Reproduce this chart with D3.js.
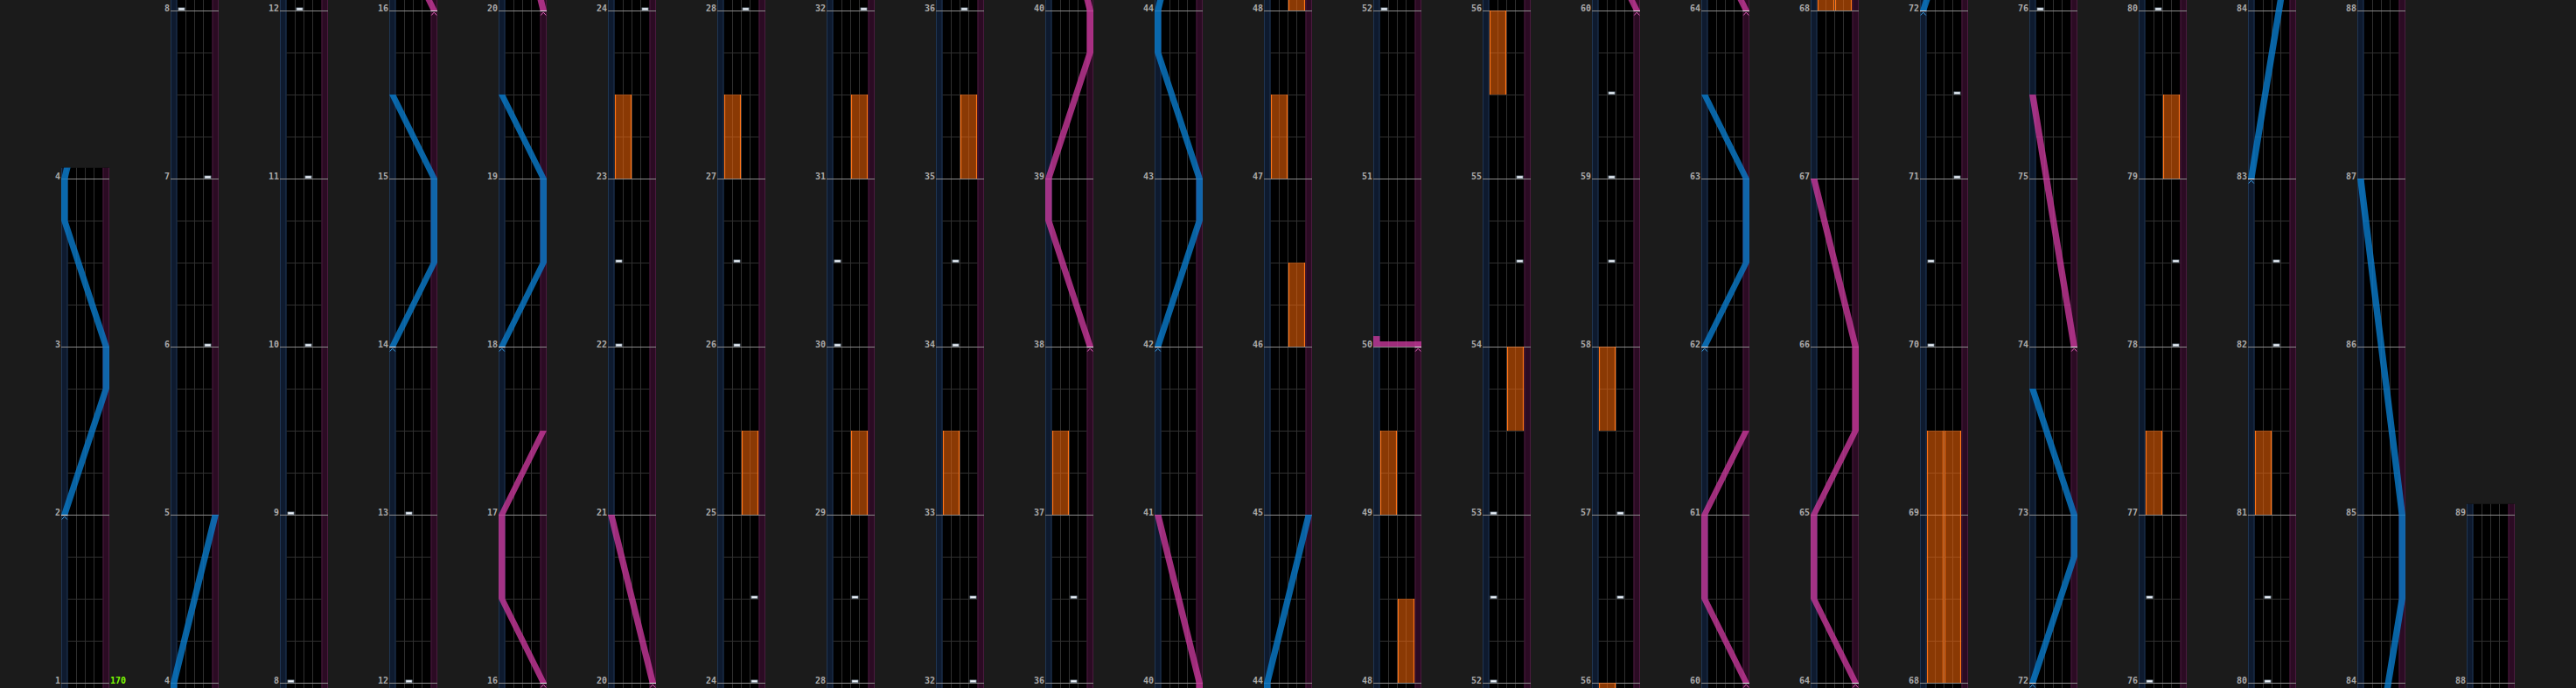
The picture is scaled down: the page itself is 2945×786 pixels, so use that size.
<!DOCTYPE html>
<html><head><meta charset="utf-8">
<script src="https://cdn.jsdelivr.net/npm/d3@7"></script>
<style>html,body{margin:0;padding:0;background:#1b1b1b;overflow:hidden}</style>
</head><body><svg id="chart" width="2945" height="786"></svg>
<script>
// ---------------- data ----------------
const columnStarts = [1,4,8,12,16,20,24,28,32,36,40,44,48,52,56,60,64,68,72,76,80,84,88];
const chartEnd = 89;
const bpmMarks = [[1, "170"]];
// BT notes: [measure, lane 0..3]
const btNotes = [
  [6,3],[7,3],[8,0],[9,0],[10,2],[11,2],[12,1],[13,1],
  [22,0],[22.5,0],[24,3],[24.5,3],[26,1],[26.5,1],[28,2],[28.5,2],
  [30,0],[30.5,0],[32,3],[32.5,3],[34,1],[34.5,1],[36,2],[36.5,2],
  [52,0],[52.5,0],[53,0],[54.5,3],[55,3],
  [56.5,2],[57,2],[58.5,1],[59,1],[59.5,1],
  [70,0],[70.5,0],[71,3],[71.5,3],
  [76,0],[76.5,0],[78,3],[78.5,3],[80,1],[80.5,1],[82,2],[82.5,2]
];
// FX holds: [lane 0=L 1=R, start, end]
const fxHolds = [
  [0,23,23.5],[1,25,25.5],[0,27,27.5],[1,29,29.5],[1,31,31.5],
  [0,33,33.5],[1,35,35.5],[0,37,37.5],[1,46,46.5],[0,47,47.5],
  [1,48,48.5],[0,49,49.5],[1,53.5,54],[0,55.5,56],[0,57.5,58],
  [0,68,69.5],[1,68,69.5],[0,77,77.5],[1,79,79.5],[0,81,81.5]
];
// lasers: lists of [measure, position 0..1]
const leftLasers = [
  [[2,0],[2.75,1],[3,1],[3.75,0],[4,0],[5,1]],
  [[14,0],[14.5,1],[15,1],[15.5,0]],
  [[18,0],[18.5,1],[19,1],[19.5,0]],
  [[42,0],[42.75,1],[43,1],[43.75,0],[44,0],[45,1]],
  [[62,0],[62.5,1],[63,1],[63.5,0]],
  [[72,0],[72.75,1],[73,1],[73.75,0]],
  [[83,0],[84.5,1],[85,1],[87,0]]
];
const rightLasers = [
  [[16,1],[16.5,0],[17,0],[17.5,1]],
  [[20,1],[21,0]],
  [[38,1],[38.75,0],[39,0],[39.75,1],[40,1],[41,0]],
  [[50,1],[50,0],[50.0625,0]],
  [[60,1],[60.5,0],[61,0],[61.5,1]],
  [[64,1],[64.5,0],[65,0],[65.5,1],[66,1],[67,0]],
  [[74,1],[75.5,0]]
];

// ---------------- layout ----------------
const W = 2945, H = 786;
const colX0 = 70, colStep = 125, colW = 55, laserW = 7.5, btW = 40;
const measurePx = 192, baseY = 780, topPad = 12.5, slamLen = 1/32;
const laserStyle = {
  L: {fill: "#0a7ccc", op: 0.8, mark: "#3a9ade"},
  R: {fill: "#cc3a9e", op: 0.78, mark: "#e060b8"}
};

const svg = d3.select("#chart");
svg.append("rect").attr("width", W).attr("height", H).attr("fill", "#1b1b1b");
const defs = svg.append("defs");

columnStarts.forEach((s, i) => {
  const e = i + 1 < columnStarts.length ? columnStarts[i + 1] : chartEnd;
  const x0 = colX0 + colStep * i;
  const y = d3.scaleLinear().domain([s, s + 1]).range([baseY, baseY - measurePx]);
  const xPos = d3.scaleLinear().domain([0, 1]).range([x0, x0 + colW - laserW]);
  const xLane = d3.scaleLinear().domain([0, 4]).range([x0 + laserW, x0 + laserW + btW]);
  const topY = Math.max(0, y(e) - topPad);
  const tMin = y.invert(H), tMax = y.invert(topY);

  defs.append("clipPath").attr("id", "clip" + i)
    .append("rect").attr("x", x0).attr("y", topY).attr("width", colW).attr("height", H - topY);

  const g = svg.append("g").attr("clip-path", `url(#clip${i})`);

  // lane backgrounds
  g.append("rect").attr("x", x0).attr("y", topY).attr("width", colW).attr("height", H - topY).attr("fill", "#000");
  g.append("rect").attr("x", xPos(0)).attr("y", topY).attr("width", laserW).attr("height", H - topY)
    .attr("fill", "#0e1a2e");
  g.append("rect").attr("x", xPos(1)).attr("y", topY).attr("width", laserW).attr("height", H - topY)
    .attr("fill", "#2b0b23");
  [[xPos(0) + 0.5, "#1f3552"], [xPos(0) + laserW - 0.5, "#1f3552"],
   [xPos(1) + 0.5, "#4a1a3e"], [xPos(1) + laserW - 0.5, "#4a1a3e"]].forEach(([xx, c]) => {
    g.append("line").attr("x1", xx).attr("x2", xx).attr("y1", topY).attr("y2", H)
      .attr("stroke", c).attr("stroke-width", 1);
  });
  // BT lane separators
  d3.range(1, 4).forEach(k => {
    g.append("line").attr("x1", xLane(k)).attr("x2", xLane(k)).attr("y1", topY).attr("y2", H)
      .attr("stroke", "#303030").attr("stroke-width", 1);
  });
  // beat lines
  const beats = d3.range(Math.ceil(s * 4), Math.floor(e * 4) + 1).map(q => q / 4).filter(t => t % 1 !== 0);
  g.selectAll(null).data(beats).enter().append("line")
    .attr("x1", xLane(0)).attr("x2", xLane(4))
    .attr("y1", t => y(t) + 0.5).attr("y2", t => y(t) + 0.5)
    .attr("stroke", "#303030").attr("stroke-width", 1);
  // measure lines
  const measures = d3.range(s, e + 1);
  g.selectAll(null).data(measures).enter().append("line")
    .attr("x1", x0).attr("x2", x0 + colW)
    .attr("y1", m => y(m) + 0.5).attr("y2", m => y(m) + 0.5)
    .attr("stroke", "#8a8a8a").attr("stroke-width", 1);

  // FX holds
  const fx = fxHolds.filter(d => d[2] >= tMin && d[1] <= tMax);
  g.selectAll(null).data(fx).enter().append("rect")
    .attr("x", d => xLane(d[0] * 2) + 0.5).attr("width", btW / 2 - 1)
    .attr("y", d => y(d[2])).attr("height", d => y(d[1]) - y(d[2]))
    .attr("fill", "#ff6a08").attr("fill-opacity", 0.54);
  g.selectAll(null).data(fx).enter().append("path")
    .attr("d", d => {
      const xa = xLane(d[0] * 2) + 1, xb = xLane(d[0] * 2 + 2) - 1;
      return `M${xa},${y(d[1])}V${y(d[2])}M${xb},${y(d[1])}V${y(d[2])}`;
    })
    .attr("stroke", "#ff7418").attr("stroke-width", 1.2).attr("fill", "none");

  // BT notes
  const notes = btNotes.filter(d => d[0] >= tMin && d[0] <= tMax);
  g.selectAll(null).data(notes).enter().append("rect")
    .attr("x", d => xLane(d[1]) + 1.5).attr("width", btW / 4 - 3)
    .attr("y", d => y(d[0]) - 3).attr("height", 2.5)
    .attr("fill", "#f2f6fa").attr("stroke", "#8c9cac").attr("stroke-width", 0.8);

  // lasers
  const drawLaser = (pts, side) => {
    const st = laserStyle[side];
    if (pts[pts.length - 1][0] < tMin || pts[0][0] > tMax) return;
    const lg = g.append("g").attr("opacity", st.op).attr("fill", st.fill);
    // split into runs at slams
    let run = [pts[0]];
    const runs = [], slams = [];
    for (let k = 1; k < pts.length; k++) {
      if (pts[k][0] === pts[k - 1][0]) {
        runs.push(run); slams.push([pts[k - 1], pts[k]]); run = [pts[k]];
      } else run.push(pts[k]);
    }
    runs.push(run);
    runs.filter(r => r.length > 1).forEach(r => {
      const left = r.map(p => [xPos(p[1]), y(p[0])]);
      const right = r.slice().reverse().map(p => [xPos(p[1]) + laserW, y(p[0])]);
      lg.append("path").attr("d", d3.line()(left.concat(right)) + "Z");
    });
    slams.forEach(([a, b]) => {
      const xa = Math.min(xPos(a[1]), xPos(b[1])), xb = Math.max(xPos(a[1]), xPos(b[1])) + laserW;
      lg.append("rect").attr("x", xa).attr("width", xb - xa)
        .attr("y", y(a[0] + slamLen)).attr("height", y(a[0]) - y(a[0] + slamLen));
    });
    // start marker
    const p0 = pts[0], cx = xPos(p0[1]) + laserW / 2, cy = y(p0[0]);
    g.append("line").attr("x1", xPos(p0[1])).attr("x2", xPos(p0[1]) + laserW)
      .attr("y1", cy + 0.5).attr("y2", cy + 0.5).attr("stroke", "#ffffff").attr("stroke-width", 1).attr("opacity", 0.85);
    g.append("path").attr("d", `M${cx - 3},${cy + 5.5}L${cx},${cy + 2}L${cx + 3},${cy + 5.5}`)
      .attr("fill", "none").attr("stroke", st.mark).attr("stroke-width", 1);
  };
  leftLasers.forEach(p => drawLaser(p, "L"));
  rightLasers.forEach(p => drawLaser(p, "R"));

  // measure labels
  svg.selectAll(null).data(measures).enter().append("text")
    .attr("x", x0 - 1).attr("y", m => y(m) + 0.5)
    .attr("text-anchor", "end")
    .attr("font-family", "DejaVu Sans Mono, monospace").attr("font-weight", "bold").attr("font-size", 10)
    .attr("fill", "#a9a9a9").text(m => m);

  // bpm marks
  svg.selectAll(null).data(bpmMarks.filter(d => d[0] >= s && d[0] < e)).enter().append("text")
    .attr("x", x0 + colW + 1).attr("y", d => y(d[0]) + 0.5)
    .attr("font-family", "DejaVu Sans Mono, monospace").attr("font-weight", "bold").attr("font-size", 10)
    .attr("fill", "#7cfc00").text(d => d[1]);
});
</script>
</body></html>
